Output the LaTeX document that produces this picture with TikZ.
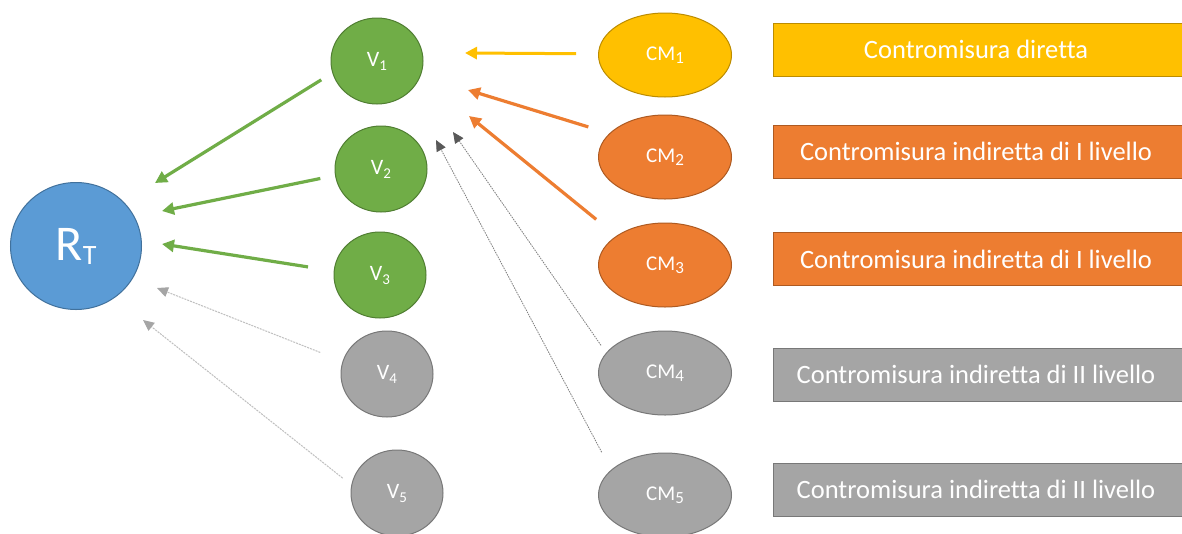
\documentclass[tikz,border=0pt]{standalone}
\usepackage{fontspec}
\setmainfont{Carlito}[Ligatures=NoCommon]
\usetikzlibrary{arrows.meta,shapes.geometric}
\definecolor{gfill}{HTML}{70AD47}\definecolor{gline}{HTML}{507E32}
\definecolor{bfill}{HTML}{5B9BD5}\definecolor{bline}{HTML}{41719C}
\definecolor{ofill}{HTML}{ED7D31}\definecolor{oline}{HTML}{AE5A21}
\definecolor{yfill}{HTML}{FFC000}\definecolor{yline}{HTML}{BC8C00}
\definecolor{kfill}{HTML}{A5A5A5}\definecolor{kline}{HTML}{787878}
\definecolor{lgray}{HTML}{BFBFBF}\definecolor{dgray}{HTML}{7F7F7F}
\definecolor{dhead}{HTML}{595959}
\newcommand\lowsub[3]{\raisebox{-#1}{\fontsize{#2}{#2}\selectfont #3}}
\newcommand\vlab[1]{V\lowsub{4pt}{15}{#1}}
\newcommand\cmlab[1]{CM\lowsub{3pt}{17}{#1}}
\tikzset{
  vnode/.style={ellipse, line width=1pt, minimum width=92pt, minimum height=86pt, inner sep=0pt, text=white, font=\fontsize{22}{26}\selectfont},
  cmnode/.style={ellipse, line width=1pt, minimum width=133pt, minimum height=84pt, inner sep=0pt, text=white, font=\fontsize{21}{25}\selectfont},
  rbox/.style={rectangle, line width=1pt, minimum width=417pt, minimum height=53pt, anchor=west, inner sep=0pt, text=white, font=\fontsize{26.5}{30}\selectfont},
  garr/.style={draw=gfill, line width=3.2pt, -{Triangle[length=12pt,width=12pt]}},
  oarr/.style={draw=ofill, line width=3.2pt, -{Triangle[length=12pt,width=12pt]}},
  yarr/.style={draw=yfill, line width=3pt, -{Triangle[length=12pt,width=12pt]}},
  larr/.style={draw=lgray, line width=1pt, dash pattern=on 2pt off 1pt, -{Triangle[length=11pt,width=10pt,color=kfill]}},
  darr/.style={draw=dgray, line width=0.8pt, dash pattern=on 1.5pt off 1pt, -{Triangle[length=11pt,width=10pt,color=dhead]}}
}
\begin{document}
\begin{tikzpicture}[x=1pt,y=-1pt]
\clip (0,0) rectangle (1182,533);
\fill[white] (0,0) rectangle (1182,533);
% R_T
\node[ellipse, minimum width=131pt, minimum height=127pt, inner sep=0pt, fill=bfill, draw=bline, line width=1pt, text=white] (RT) at (76,246)
  {\fontsize{50}{50}\selectfont R\lowsub{4pt}{28}{T}};
% V nodes
\node[vnode, fill=gfill, draw=gline] (V1) at (377,61) {\vlab{1}};
\node[vnode, fill=gfill, draw=gline] (V2) at (381,169) {\vlab{2}};
\node[vnode, fill=gfill, draw=gline] (V3) at (380,275) {\vlab{3}};
\node[vnode, fill=kfill, draw=kline] (V4) at (387,374) {\vlab{4}};
\node[vnode, fill=kfill, draw=kline] (V5) at (397,493) {\vlab{5}};
% CM nodes
\node[cmnode, fill=yfill, draw=yline] (CM1) at (665,55) {\cmlab{1}};
\node[cmnode, fill=ofill, draw=oline] (CM2) at (665,157) {\cmlab{2}};
\node[cmnode, fill=ofill, draw=oline] (CM3) at (665,265) {\cmlab{3}};
\node[cmnode, fill=kfill, draw=kline] (CM4) at (665,373) {\cmlab{4}};
\node[cmnode, fill=kfill, draw=kline] (CM5) at (665,495) {\cmlab{5}};
% legend boxes
\node[rbox, fill=yfill, draw=yline] (B1) at (773,49.5) {Contromisura diretta\hspace*{12pt}};
\node[rbox, fill=ofill, draw=oline] (B2) at (773,151.5) {Contromisura indiretta di I livello\hspace*{12pt}};
\node[rbox, fill=ofill, draw=oline] (B3) at (773,259) {Contromisura indiretta di I livello\hspace*{12pt}};
\node[rbox, fill=kfill, draw=kline] (B4) at (773,374.5) {Contromisura indiretta di II livello\hspace*{12pt}};
\node[rbox, fill=kfill, draw=kline] (B5) at (773,489.5) {Contromisura indiretta di II livello\hspace*{12pt}};
% arrow tips
\coordinate (t1) at (155,183);
\coordinate (t2) at (162,211);
\coordinate (t3) at (162,244);
\coordinate (t4) at (157,288);
\coordinate (t5) at (143,320);
\coordinate (t6) at (465,53);
\coordinate (t7) at (468,90);
\coordinate (t8) at (469,116);
\coordinate (t9) at (453,132);
\coordinate (t10) at (436,140);
% connectors
\draw[garr, shorten <=13pt] (V1.195) -- (t1);
\draw[garr, shorten <=15pt] (V2.188) -- (t2);
\draw[garr, shorten <=26pt] (V3.175) -- (t3);
\draw[larr, shorten <=24pt] (V4.164) -- (t4);
\draw[larr, shorten <=11pt] (V5.170) -- (t5);
\draw[yarr, shorten <=22pt] (CM1.179) -- (t6);
\draw[oarr, shorten <=22pt] (CM2.157) -- (t7);
\draw[oarr, shorten <=26pt] (CM3.149) -- (t8);
\draw[darr, shorten <=9pt] (CM4.161) -- (t9);
\draw[darr, shorten <=20pt] (CM5.155) -- (t10);
\end{tikzpicture}
\end{document}
